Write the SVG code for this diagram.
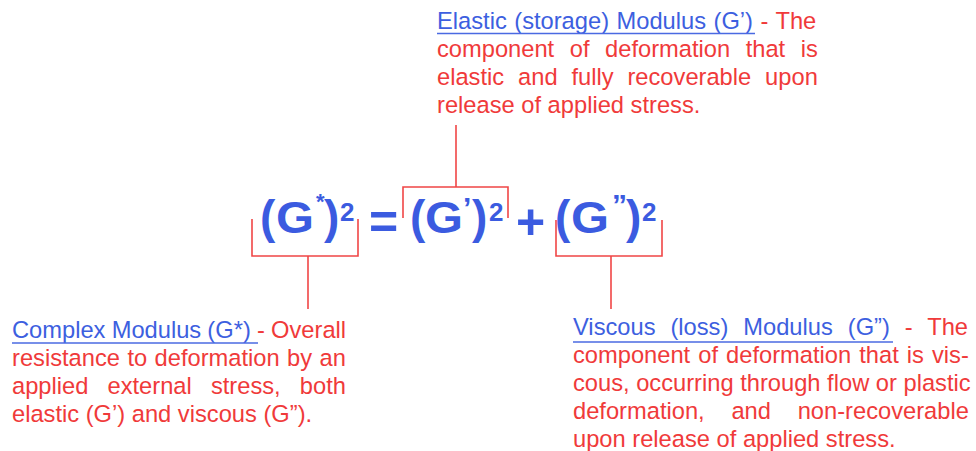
<svg xmlns="http://www.w3.org/2000/svg" width="976" height="451" viewBox="0 0 976 451">
<style>
.t{font-family:"Liberation Sans",Arial,Helvetica,sans-serif;font-size:23.7px;fill:#f03a3a}
.b{fill:#3d5fe0}
.eq{font-family:"Liberation Sans",Arial,Helvetica,sans-serif;font-weight:bold;fill:#3b5be0}
.p{font-size:46px}
.g{font-size:44px}
.s{font-size:26px}
.op{font-size:50px}
.q{font-size:30px}
.a{font-size:22px}
.ul{stroke:#4a6ae2;stroke-width:1.6;fill:none}
.c{stroke:#f04646;stroke-width:1.6;fill:none}
</style>
<rect width="976" height="451" fill="#ffffff"/>
<g id="connectors">
<path class="c" d="M252,219 V256 H358 V219 M308,256 V309"/>
<path class="c" d="M403,218 V187 H508 V218 M456,187 V125"/>
<path class="c" d="M556,220 V256 H662 V220 M611,256 V309"/>
</g>
<g id="equation">
<text class="eq"><tspan class="p" x="260" y="233">(</tspan><tspan class="g" x="276" y="233" textLength="38" lengthAdjust="spacingAndGlyphs">G</tspan><tspan class="a" x="316" y="209">*</tspan><tspan class="p" x="324" y="233">)</tspan><tspan class="s" x="340" y="221">2</tspan><tspan class="op" x="369" y="239">=</tspan><tspan class="p" x="410" y="233">(</tspan><tspan class="g" x="425" y="233" textLength="38" lengthAdjust="spacingAndGlyphs">G</tspan><tspan class="q" x="463" y="218">’</tspan><tspan class="p" x="472" y="233">)</tspan><tspan class="s" x="489" y="221">2</tspan><tspan class="op" x="516" y="239">+</tspan><tspan class="p" x="555" y="233">(</tspan><tspan class="g" x="571" y="233" textLength="38" lengthAdjust="spacingAndGlyphs">G</tspan><tspan class="q" x="612" y="215">”</tspan><tspan class="p" x="626" y="233">)</tspan><tspan class="s" x="642" y="221">2</tspan></text>
</g>
<g id="elastic-note">
<text class="t" x="437" y="29" word-spacing="0.9"><tspan class="b">Elastic (storage) Modulus (G’)</tspan> - The</text>
<text class="t" x="437" y="57" word-spacing="8.96">component of deformation that is</text>
<text class="t" x="437" y="85" word-spacing="7.31">elastic and fully recoverable upon</text>
<text class="t" x="437" y="113">release of applied stress.</text>
<line class="ul" x1="437" y1="33.5" x2="755" y2="33.5"/>
</g>
<g id="complex-note">
<text class="t" x="12" y="338" word-spacing="-0.4"><tspan class="b">Complex Modulus (G*)</tspan> - Overall</text>
<text class="t" x="12" y="366" word-spacing="0.84">resistance to deformation by an</text>
<text class="t" x="12" y="394" word-spacing="12.54">applied external stress, both</text>
<text class="t" x="12" y="422">elastic (G’) and viscous (G”).</text>
<line class="ul" x1="12" y1="343" x2="258" y2="343"/>
</g>
<g id="viscous-note">
<text class="t" x="573" y="335" word-spacing="8.35"><tspan class="b">Viscous (loss) Modulus (G”)</tspan> - The</text>
<text class="t" x="573" y="363" word-spacing="1.49">component of deformation that is vis-</text>
<text class="t" x="573" y="391">cous, occurring through flow or plastic</text>
<text class="t" x="573" y="419" word-spacing="20.16">deformation, and non-recoverable</text>
<text class="t" x="573" y="447">upon release of applied stress.</text>
<line class="ul" x1="573" y1="342" x2="893" y2="342"/>
</g>
</svg>
